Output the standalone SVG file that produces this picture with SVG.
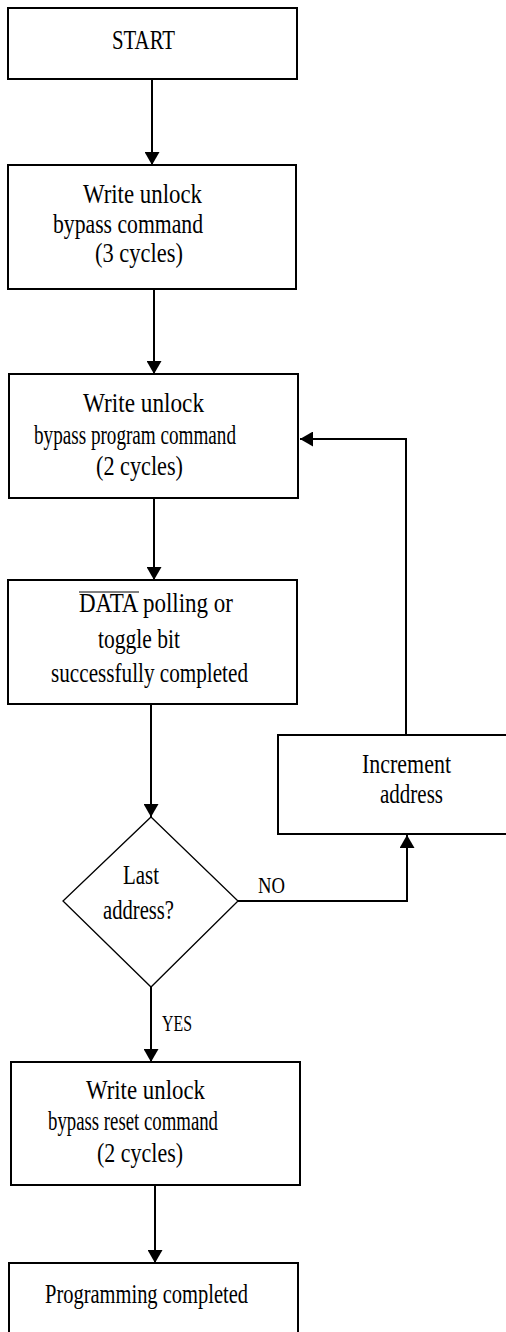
<svg xmlns="http://www.w3.org/2000/svg" width="506" height="1332" viewBox="0 0 506 1332">
<defs>
<marker id="ah" markerUnits="userSpaceOnUse" markerWidth="15" markerHeight="15" refX="13" refY="7.5" orient="auto" viewBox="0 0 13 15">
<path d="M0,0 L13,7.5 L0,15 z" fill="#000"/>
</marker>
</defs>
<style>
.box{fill:#fff;stroke:#000;stroke-width:2}
.dia{fill:#fff;stroke:#000;stroke-width:1.3}
.t{font-family:"Liberation Serif","Times New Roman",serif;font-size:28px;fill:#000}
.s{font-size:24px}
.c{fill:none;stroke:#000;stroke-width:2;marker-end:url(#ah)}
</style>
<rect width="506" height="1332" fill="#fff"/>
<g id="connectors">
<path class="c" d="M152,80 V165"/>
<path class="c" d="M154,290 V374"/>
<path class="c" d="M406,735 V439 H300"/>
<path class="c" d="M154,499 V580"/>
<path class="c" d="M151,705 V817"/>
<path class="c" d="M238,901 H407 V835"/>
<path class="c" d="M151,987 V1062"/>
<path class="c" d="M155,1186 V1263"/>
<text class="t s" x="258" y="893" textLength="27" lengthAdjust="spacingAndGlyphs">NO</text>
<text class="t s" x="162" y="1031" textLength="30" lengthAdjust="spacingAndGlyphs">YES</text>
</g>
<g id="start">
<rect class="box" x="8" y="8" width="289" height="71"/>
<text class="t" x="112" y="49" textLength="63" lengthAdjust="spacingAndGlyphs">START</text>
</g>
<g id="unlock-bypass">
<rect class="box" x="8" y="165" width="288" height="124"/>
<text class="t" x="83" y="203" textLength="119" lengthAdjust="spacingAndGlyphs">Write unlock</text>
<text class="t" x="53" y="233" textLength="150" lengthAdjust="spacingAndGlyphs">bypass command</text>
<text class="t" x="95" y="262" textLength="88" lengthAdjust="spacingAndGlyphs">(3 cycles)</text>
</g>
<g id="unlock-program">
<rect class="box" x="9" y="374" width="289" height="124"/>
<text class="t" x="83" y="412" textLength="121" lengthAdjust="spacingAndGlyphs">Write unlock</text>
<text class="t" x="34" y="444" textLength="202" lengthAdjust="spacingAndGlyphs">bypass program command</text>
<text class="t" x="96" y="475" textLength="87" lengthAdjust="spacingAndGlyphs">(2 cycles)</text>
</g>
<g id="polling">
<rect class="box" x="8" y="580" width="289" height="124"/>
<text class="t" x="79" y="612" textLength="154" lengthAdjust="spacingAndGlyphs">DATA polling or</text>
<line x1="79" y1="592" x2="139" y2="592" stroke="#000" stroke-width="1"/>
<text class="t" x="98" y="648" textLength="82" lengthAdjust="spacingAndGlyphs">toggle bit</text>
<text class="t" x="51" y="682" textLength="197" lengthAdjust="spacingAndGlyphs">successfully completed</text>
</g>
<g id="last-address">
<polygon class="dia" points="151,817 238,901 151,987 63,901"/>
<text class="t" x="123" y="884" textLength="36" lengthAdjust="spacingAndGlyphs">Last</text>
<text class="t" x="103" y="919" textLength="71" lengthAdjust="spacingAndGlyphs">address?</text>
</g>
<g id="increment">
<rect class="box" x="278" y="735" width="240" height="99"/>
<text class="t" x="362" y="773" textLength="89" lengthAdjust="spacingAndGlyphs">Increment</text>
<text class="t" x="380" y="803" textLength="63" lengthAdjust="spacingAndGlyphs">address</text>
</g>
<g id="unlock-reset">
<rect class="box" x="11" y="1062" width="289" height="123"/>
<text class="t" x="86" y="1099" textLength="119" lengthAdjust="spacingAndGlyphs">Write unlock</text>
<text class="t" x="48" y="1130" textLength="170" lengthAdjust="spacingAndGlyphs">bypass reset command</text>
<text class="t" x="97" y="1162" textLength="86" lengthAdjust="spacingAndGlyphs">(2 cycles)</text>
</g>
<g id="done">
<rect class="box" x="9" y="1263" width="289" height="80"/>
<text class="t" x="45" y="1303" textLength="203" lengthAdjust="spacingAndGlyphs">Programming completed</text>
</g>
</svg>
